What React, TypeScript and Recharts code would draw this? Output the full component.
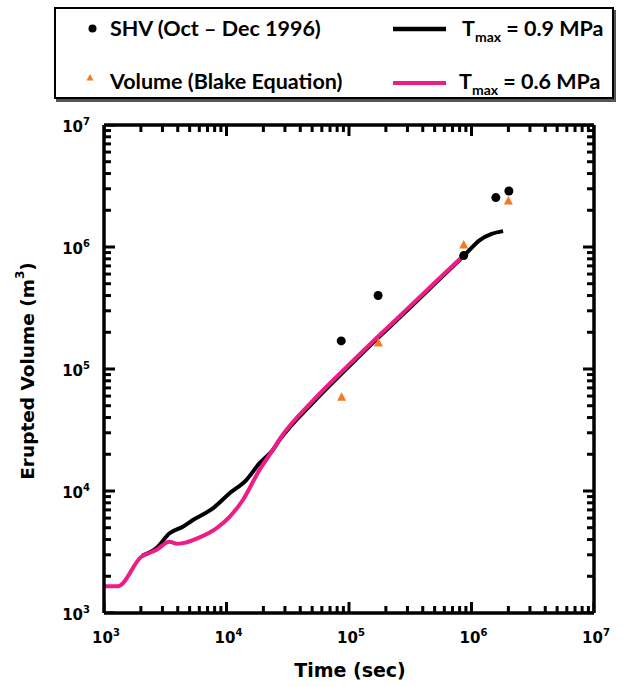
import React from 'react';
import { ComposedChart, Line, Scatter, XAxis, YAxis, Label } from 'recharts';

// SHV observed erupted volume (Oct – Dec 1996)
const shvTime = [86400, 172800, 864000, 1580000, 2020000];
const shvVolume = [170000, 400000, 850000, 2540000, 2880000];

// Volume from Blake equation
const blakeTime = [87000, 174000, 864000, 2000000];
const blakeVolume = [58600, 163000, 1040000, 2380000];

// Model, Tmax = 0.9 MPa
const t09Time = [2050, 2670, 3428, 4405, 5320, 7740, 10600, 14500, 18600, 23900, 27100, 50800, 95000, 178000, 260000, 486000, 870000, 1170000, 1460000, 1810000];
const t09Volume = [2950, 3390, 4500, 5100, 5780, 7210, 9570, 12300, 16900, 21700, 26200, 53000, 100000, 185000, 265000, 485000, 849000, 1140000, 1280000, 1350000];

// Model, Tmax = 0.6 MPa
const t06Time = [1000, 1300, 2013, 2670, 3428, 3900, 4405, 6030, 8260, 10600, 13600, 18600, 23900, 27100, 50800, 95000, 178000, 260000, 486000, 870000];
const t06Volume = [1660, 1660, 2890, 3280, 3840, 3700, 3740, 4170, 4950, 6150, 8440, 14900, 21700, 26500, 55000, 103000, 190000, 272000, 495000, 860000];

// Axis ticks
const majorTicks = [1000, 10000, 100000, 1000000, 10000000];
const decades = [1000, 10000, 100000, 1000000];
const minorMultipliers = [2, 3, 4, 5, 6, 7, 8, 9];
const axisMin = 1000;
const axisMax = 10000000;
const axisDomain = [axisMin, axisMax];

const minorTicks: number[] = [];
decades.forEach((d) => minorMultipliers.forEach((m) => minorTicks.push(d * m)));
const allTicks = [...majorTicks, ...minorTicks].sort((a, b) => a - b);

const toPoints = (ts: number[], vs: number[]) => ts.map((t, i) => ({ t, v: vs[i] }));
const shvData = toPoints(shvTime, shvVolume);
const blakeData = toPoints(blakeTime, blakeVolume);
const t09Data = toPoints(t09Time, t09Volume);
const t06Data = toPoints(t06Time, t06Volume);

// tick-mark anchors on the four frame edges (placed through the chart scales)
const bottomMarks = allTicks.map((t) => ({ t, v: axisMin, tick: t }));
const topMarks = allTicks.map((t) => ({ t, v: axisMax, tick: t }));
const leftMarks = allTicks.map((v) => ({ t: axisMin, v, tick: v }));
const rightMarks = allTicks.map((v) => ({ t: axisMax, v, tick: v }));

const PINK = '#EE1C86';
const ORANGE = '#F47A20';
const TICK_FONT = "'DejaVu Sans', Verdana, sans-serif";
const LEGEND_FONT = "Lato, 'Open Sans', sans-serif";

const isMajor = (v: number) => {
  const e = Math.log10(v);
  return Math.abs(e - Math.round(e)) < 1e-9;
};
const tickLen = (v: number) => (isMajor(v) ? 11 : 7);
const expOf = (v: number) => Math.round(Math.log10(v));

const makeMark = (dx: number, dy: number) => (props: any) => {
  const { cx, cy, payload } = props;
  const len = tickLen(payload.tick);
  const w = 3;
  // drawn as a filled rectangle so the tick is crisp and solid
  const x = dx === 0 ? cx - w / 2 : dx > 0 ? cx : cx - len;
  const y = dy === 0 ? cy - w / 2 : dy > 0 ? cy : cy - len;
  const width = dx === 0 ? w : len;
  const height = dy === 0 ? w : len;
  return <rect x={x} y={y} width={width} height={height} fill="#000" />;
};
const UpMark = makeMark(0, -1);
const DownMark = makeMark(0, 1);
const RightMark = makeMark(1, 0);
const LeftMark = makeMark(-1, 0);

const BottomLabel = (props: any) => {
  const { x, y, payload } = props;
  return (
    <text x={x + 2} y={y + 30} textAnchor="middle" fontFamily={TICK_FONT} fontWeight="bold" fontSize={15} fill="#000">
      <tspan>10</tspan>
      <tspan dy={-7} fontSize={10}>{expOf(payload.value)}</tspan>
    </text>
  );
};

const LeftLabel = (props: any) => {
  const { x, y, payload } = props;
  return (
    <text x={x - 14} y={y + 7} textAnchor="end" fontFamily={TICK_FONT} fontWeight="bold" fontSize={15} fill="#000">
      <tspan>10</tspan>
      <tspan dy={-7} fontSize={10}>{expOf(payload.value)}</tspan>
    </text>
  );
};

const Dot = (props: any) => <circle cx={props.cx} cy={props.cy} r={4.5} fill="#000" />;
const Tri = (props: any) => {
  const { cx, cy } = props;
  return <path d={`M${cx},${cy - 5} L${cx + 4.5},${cy + 3.5} L${cx - 4.5},${cy + 3.5} Z`} fill={ORANGE} />;
};

const XTitle = (props: any) => {
  const { viewBox } = props;
  const cx = viewBox.x + viewBox.width / 2 + 1;
  return (
    <text x={cx} y={viewBox.y + 64} textAnchor="middle" fontFamily={TICK_FONT} fontWeight="bold" fontSize={19} fill="#000">
      Time (sec)
    </text>
  );
};

const YTitle = (props: any) => {
  const { viewBox } = props;
  const cx = 27;
  const cy = viewBox.y + viewBox.height / 2 + 2;
  return (
    <text
      x={cx}
      y={cy}
      transform={`rotate(-90, ${cx}, ${cy})`}
      textAnchor="middle"
      dominantBaseline="central"
      fontFamily={TICK_FONT}
      fontWeight="bold"
      fontSize={18.5}
      fill="#000"
    >
      Erupted Volume (m<tspan dy={-7} fontSize={12}>3</tspan><tspan dy={7}>)</tspan>
    </text>
  );
};

const legendText: React.CSSProperties = {
  position: 'absolute',
  fontFamily: LEGEND_FONT,
  fontWeight: 700,
  fontSize: 21.5,
  lineHeight: '24px',
  whiteSpace: 'nowrap',
  color: '#000',
};

const Legend = () => (
  <div
    style={{
      position: 'absolute',
      left: 54,
      top: 7,
      width: 556,
      height: 88,
      border: '2px solid #000',
      boxShadow: '2px 3px 0 #555',
      background: '#fff',
    }}
  >
    <svg style={{ position: 'absolute', left: -2, top: -2 }} width={560} height={92}>
      <circle cx={38.5} cy={21.5} r={4} fill="#000" />
      <path d="M36,67 L39.5,73.5 L32.5,73.5 Z" fill={ORANGE} />
      <line x1={339} x2={392} y1={22} y2={22} stroke="#000" strokeWidth={4.5} />
      <line x1={339} x2={392} y1={76} y2={76} stroke={PINK} strokeWidth={4} />
    </svg>
    <div style={{ ...legendText, left: 54, top: 7 }}>SHV (Oct – Dec 1996)</div>
    <div style={{ ...legendText, left: 54, top: 60 }}>Volume (Blake Equation)</div>
    <div style={{ ...legendText, left: 406, top: 7 }}>
      T<span style={{ fontSize: 14, verticalAlign: -6 }}>max</span> = 0.9 MPa
    </div>
    <div style={{ ...legendText, left: 403, top: 60 }}>
      T<span style={{ fontSize: 14, verticalAlign: -6 }}>max</span> = 0.6 MPa
    </div>
  </div>
);

const base = {
  type: 'number' as const,
  scale: 'log' as const,
  domain: axisDomain,
  allowDataOverflow: true,
  interval: 0,
  ticks: majorTicks,
  tickSize: 0,
  tickMargin: 0,
  tickLine: false,
  axisLine: { stroke: '#000', strokeWidth: 3.5 },
};

export default function App() {
  return (
    <div style={{ position: 'absolute', left: 0, top: 0, width: 625, height: 686, background: '#fff' }}>
      <ComposedChart width={625} height={686} margin={{ top: 124, right: 30, bottom: 72, left: 103 }}>
        <XAxis xAxisId="main" dataKey="t" height={1} tick={<BottomLabel />} {...base}>
          <Label content={<XTitle />} />
        </XAxis>
        <XAxis xAxisId="top" orientation="top" dataKey="t" height={1} tick={false} {...base} />
        <YAxis yAxisId="main" dataKey="v" width={1} tick={<LeftLabel />} {...base}>
          <Label content={<YTitle />} />
        </YAxis>
        <YAxis yAxisId="right" orientation="right" dataKey="v" width={1} tick={false} {...base} />
        <Line
          xAxisId="main"
          yAxisId="main"
          data={t09Data}
          dataKey="v"
          type="monotone"
          stroke="#000"
          strokeWidth={4}
          dot={false}
          activeDot={false}
          isAnimationActive={false}
        />
        <Line
          xAxisId="main"
          yAxisId="main"
          data={t06Data}
          dataKey="v"
          type="monotone"
          stroke={PINK}
          strokeWidth={4}
          dot={false}
          activeDot={false}
          isAnimationActive={false}
        />
        <Scatter xAxisId="main" yAxisId="main" data={bottomMarks} dataKey="v" shape={<UpMark />} isAnimationActive={false} />
        <Scatter xAxisId="main" yAxisId="main" data={topMarks} dataKey="v" shape={<DownMark />} isAnimationActive={false} />
        <Scatter xAxisId="main" yAxisId="main" data={leftMarks} dataKey="v" shape={<RightMark />} isAnimationActive={false} />
        <Scatter xAxisId="main" yAxisId="main" data={rightMarks} dataKey="v" shape={<LeftMark />} isAnimationActive={false} />
        <Scatter xAxisId="main" yAxisId="main" data={blakeData} dataKey="v" shape={<Tri />} isAnimationActive={false} />
        <Scatter xAxisId="main" yAxisId="main" data={shvData} dataKey="v" shape={<Dot />} isAnimationActive={false} />
      </ComposedChart>
      <Legend />
    </div>
  );
}
